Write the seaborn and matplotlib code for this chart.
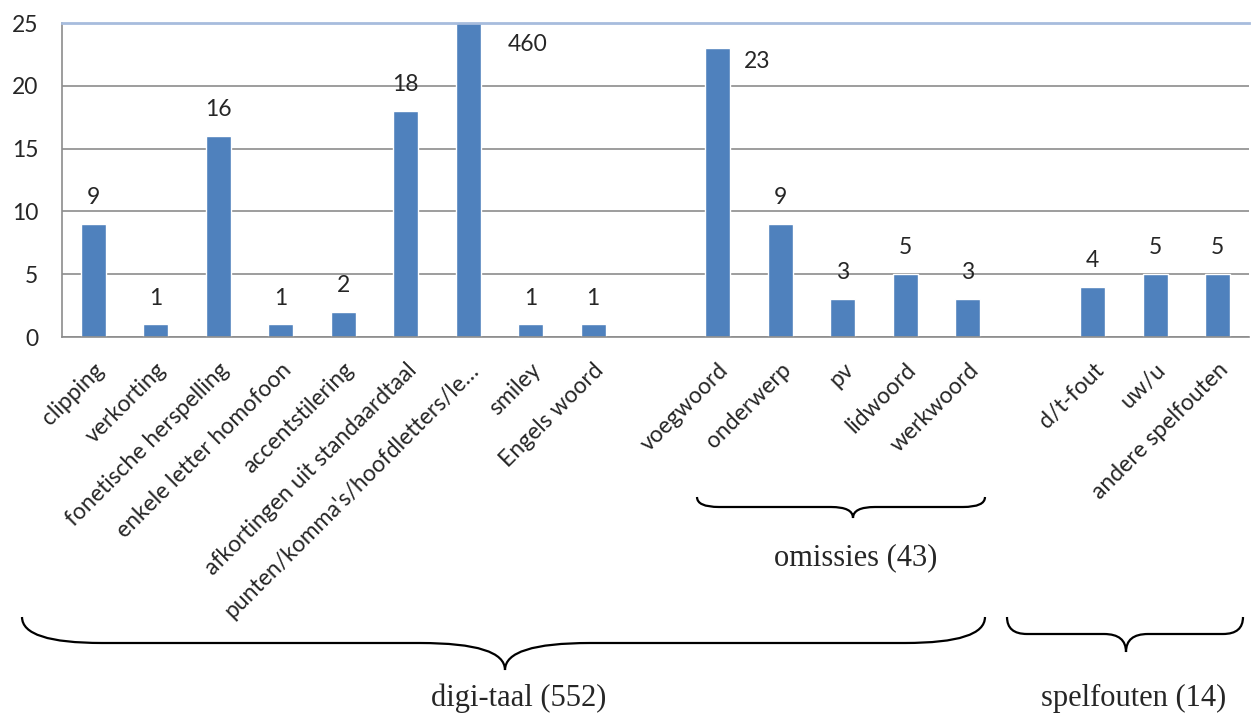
import numpy as np
import pandas as pd
import seaborn as sns
import matplotlib.pyplot as plt
from matplotlib.path import Path
from matplotlib.patches import PathPatch

# categories (two empty slots separate the groups)
categories = ["clipping", "verkorting", "fonetische herspelling",
              "enkele letter homofoon", "accentstilering",
              "afkortingen uit standaardtaal",
              "punten/komma's/hoofdletters/le…", "smiley", "Engels woord",
              " ",
              "voegwoord", "onderwerp", "pv", "lidwoord", "werkwoord",
              "  ",
              "d/t-fout", "uw/u", "andere spelfouten"]
counts = [9, 1, 16, 1, 2, 18, 460, 1, 1, np.nan,
          23, 9, 3, 5, 3, np.nan,
          4, 5, 5]

groups = ["omissies (43)", "digi-taal (552)", "spelfouten (14)"]

df = pd.DataFrame({"categorie": categories, "aantal": counts}).dropna()

sns.set_style("white")
plt.rcParams["font.family"] = ["Lato", "DejaVu Sans"]

W, H = 1252, 716
fig = plt.figure(figsize=(W / 100, H / 100), dpi=100)
ax = fig.add_axes([62 / W, 1 - 337 / H, (1249 - 62) / W, (337 - 23) / H])

sns.barplot(data=df, x="categorie", y="aantal", order=categories,
            color="#4F81BD", saturation=1, width=0.4, ax=ax)

ax.set_ylim(0, 25)
ax.set_xlim(-0.5, len(categories) - 0.5)
ax.set_yticks(range(0, 26, 5))
ax.yaxis.grid(True, color="#8C8C8C", linewidth=1.2)
ax.set_axisbelow(True)
ax.set_xlabel("")
ax.set_ylabel("")

ax.spines["right"].set_visible(False)
ax.spines["top"].set_color("#A7BCDD")
ax.spines["top"].set_linewidth(2)
for s in ["left", "bottom"]:
    ax.spines[s].set_color("#8C8C8C")
    ax.spines[s].set_linewidth(1.2)

ax.tick_params(axis="y", length=7, color="#8C8C8C", labelsize=16.5, pad=10)
ax.set_xticks(range(len(categories)))
ax.set_xticklabels(categories, rotation=45, ha="right",
                   rotation_mode="anchor", fontsize=16.5)
ax.tick_params(axis="x", which="major", length=0, pad=16)
ax.set_xticks(np.arange(-0.5, len(categories), 1), minor=True)
ax.tick_params(axis="x", which="minor", length=8, color="#8C8C8C", width=1.2)

# value labels
label_shift = {"punten/komma's/hoofdletters/le…": (0.95, -1.7),
               "voegwoord": (0.62, -1.1)}
for i, (cat, v) in enumerate(zip(categories, counts)):
    if np.isnan(v):
        continue
    dx, dy = label_shift.get(cat, (0, 2.1))
    ax.text(i + dx, min(v, 25) + dy, f"{int(v)}", ha="center",
            va="center", fontsize=16.5)


def brace(x0, x1, xm, ytop, yline, ycusp, r, r2, lw=1.6):
    pts = [(x0, ytop), (x0, yline), (x0 + r, yline),
           (xm - r2, yline), (xm, yline), (xm, ycusp),
           (xm, yline), (xm + r2, yline),
           (x1 - r, yline), (x1, yline), (x1, ytop)]
    codes = [Path.MOVETO, Path.CURVE3, Path.CURVE3,
             Path.LINETO, Path.CURVE3, Path.CURVE3,
             Path.CURVE3, Path.CURVE3,
             Path.LINETO, Path.CURVE3, Path.CURVE3]
    pts = [(x / W, 1 - y / H) for x, y in pts]
    fig.add_artist(PathPatch(Path(pts, codes), transform=fig.transFigure,
                             fill=False, lw=lw, color="black"))


brace(697, 985, 853, 497, 507, 518, 22, 22)
brace(22, 985, 505, 617, 643, 670, 80, 85)
brace(1007, 1243, 1126, 617, 634, 652, 20, 22)

serif = ["Liberation Serif", "DejaVu Serif"]
fig.text(856 / W, 1 - 558 / H, groups[0], ha="center", va="center",
         fontsize=22, family=serif)
fig.text(519 / W, 1 - 698 / H, groups[1], ha="center", va="center",
         fontsize=22, family=serif)
fig.text(1134 / W, 1 - 698 / H, groups[2], ha="center", va="center",
         fontsize=22, family=serif)

fig.savefig("out.png", dpi=100)
